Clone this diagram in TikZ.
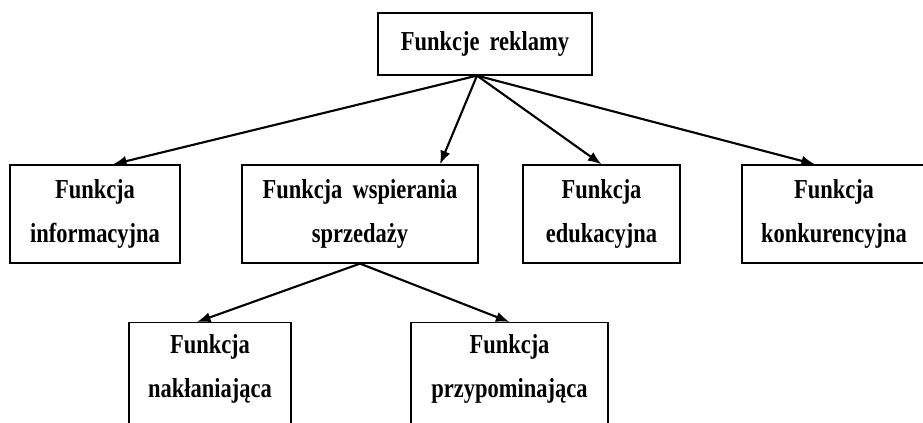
\documentclass[tikz,border=0pt]{standalone}
\usepackage{fontspec}
\setmainfont{Liberation Serif}[FakeStretch=0.82, WordSpace=1.8]
\usepackage{tikz}
\usetikzlibrary{arrows.meta,positioning}

\begin{document}
\begin{tikzpicture}[
    func/.style={rectangle, draw, line width=0.9pt, align=center, inner sep=0pt,
        font=\fontsize{19.5}{31.3}\selectfont\bfseries},
    lower/.style={func, anchor=north, inner ysep=0.3cm, text depth=2.2cm},
    arrow/.style={-{Latex[length=0.34cm, width=0.26cm]}, line width=1.5pt}
]
\useasboundingbox (0,0) rectangle (23.075,10.575);

% Main box
\node[func, minimum width=5.35cm, minimum height=1.55cm] (reklama) at (12.125, 9.475) {Funkcje reklamy};

% Second level
\node[func, minimum width=4.25cm, minimum height=2.45cm] (inform) at (2.375, 5.225) {Funkcja\\informacyjna};
\node[func, minimum width=5.9cm, minimum height=2.45cm] (wspier) at (9.0, 5.225) {Funkcja wspierania\\sprzedaży};
\node[func, minimum width=3.925cm, minimum height=2.45cm] (eduk) at (15.0375, 5.225) {Funkcja\\edukacyjna};
\node[func, minimum width=4.6cm, minimum height=2.45cm] (konkur) at (20.85, 5.225) {Funkcja\\konkurencyjna};

% Third level
\node[lower, minimum width=4.05cm] (naklan) at (5.25, 2.525) {Funkcja\\nakłaniająca};
\node[lower, minimum width=4.925cm] (przyp) at (12.7375, 2.525) {Funkcja\\przypominająca};

% Arrows from main box
\draw[arrow] ([xshift=-0.2cm]reklama.south) -- ([xshift=0.45cm]inform.north);
\draw[arrow] ([xshift=-0.2cm]reklama.south) -- ([xshift=2cm]wspier.north);
\draw[arrow] ([xshift=-0.2cm]reklama.south) -- (eduk.north);
\draw[arrow] ([xshift=-0.2cm]reklama.south) -- ([xshift=-0.475cm]konkur.north);

% Arrows from sales support
\draw[arrow] (wspier.south) -- ([xshift=-0.325cm]naklan.north);
\draw[arrow] (wspier.south) -- (przyp.north);

\end{tikzpicture}
\end{document}
